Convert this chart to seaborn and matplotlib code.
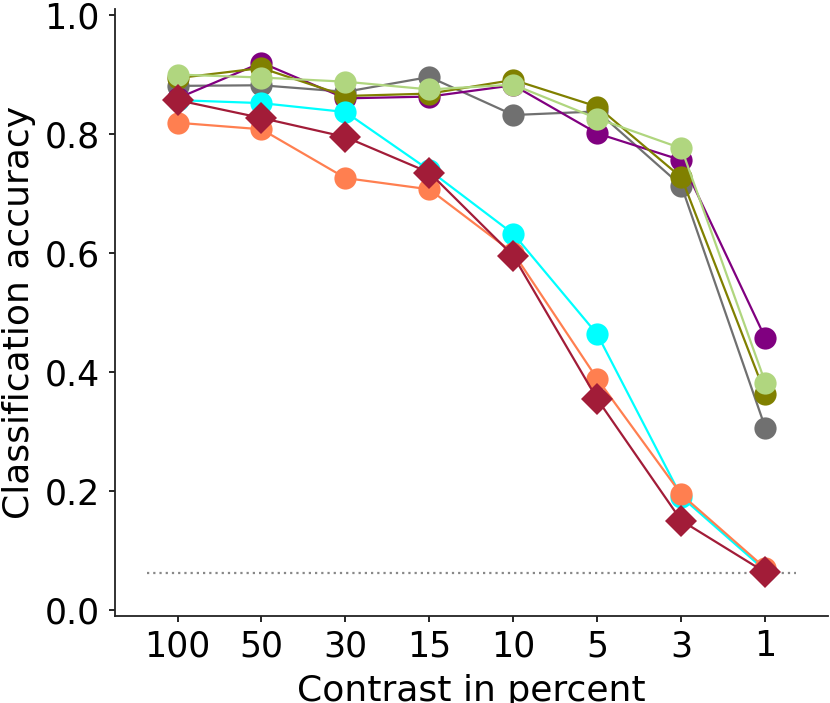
import numpy as np
import pandas as pd
import matplotlib
matplotlib.use("Agg")
import matplotlib.pyplot as plt
import seaborn as sns

contrast_labels = ["100", "50", "30", "15", "10", "5", "3", "1"]

grey_vals = [0.881, 0.882, 0.871, 0.896, 0.832, 0.838, 0.713, 0.306]
purple_vals = [0.860, 0.920, 0.860, 0.863, 0.882, 0.801, 0.756, 0.457]
olive_vals = [0.894, 0.911, 0.864, 0.868, 0.891, 0.846, 0.727, 0.363]
lightgreen_vals = [0.900, 0.895, 0.888, 0.875, 0.883, 0.826, 0.776, 0.382]
cyan_vals = [0.857, 0.852, 0.837, 0.739, 0.632, 0.463, 0.190, 0.066]
coral_vals = [0.819, 0.808, 0.726, 0.707, 0.600, 0.388, 0.194, 0.070]
human_vals = [0.857, 0.827, 0.795, 0.735, 0.595, 0.354, 0.150, 0.063]

chance_level = 1 / 16

series_names = ["grey", "purple", "olive", "lightgreen", "cyan", "coral", "human"]
series_values = [grey_vals, purple_vals, olive_vals, lightgreen_vals,
                 cyan_vals, coral_vals, human_vals]
palette = {"grey": "#707070", "purple": "#800080", "olive": "#808000",
           "lightgreen": "#b0d67f", "cyan": "#00ffff", "coral": "#ff7f50",
           "human": "#a21c38"}
markers = {n: "o" for n in series_names}
markers["human"] = "D"

rows = []
for name, vals in zip(series_names, series_values):
    for lab, v in zip(contrast_labels, vals):
        rows.append({"contrast": lab, "acc": v, "model": name})
df = pd.DataFrame(rows)

sns.set_theme(style="ticks")
plt.rcParams["font.family"] = ["DejaVu Sans"]

fig = plt.figure(figsize=(8.30, 7.03), dpi=100)
ax = fig.add_axes([0.138, 0.124, 0.860, 0.863])

sns.lineplot(data=df, x="contrast", y="acc", hue="model", style="model",
             hue_order=series_names, style_order=series_names,
             palette=palette, markers=markers, dashes=False, sort=False,
             markersize=16, markeredgewidth=0, linewidth=1.6,
             errorbar=None, legend=False, ax=ax)

ax.plot([-0.36, 7.36], [chance_level, chance_level], linestyle=(0, (1, 1.8)),
        color="#888888", linewidth=1.6, zorder=0)

ax.set_xlim(-0.75, 7.75)
ax.set_ylim(-0.01, 1.01)
ax.set_yticks([0.0, 0.2, 0.4, 0.6, 0.8, 1.0])
ax.set_yticklabels(["0.0", "0.2", "0.4", "0.6", "0.8", "1.0"])
ax.tick_params(axis="both", labelsize=25, length=4.5, width=1.2, color="black",
               labelcolor="black", pad=6)
ax.tick_params(axis="x", pad=5)
ax.set_xlabel("Contrast in percent", fontsize=26, color="black", labelpad=8)
ax.set_ylabel("Classification accuracy", fontsize=26, color="black", labelpad=6)
for s in ["left", "bottom"]:
    ax.spines[s].set_color("#222222")
    ax.spines[s].set_linewidth(1.3)
sns.despine(ax=ax)

fig.savefig("out.png", dpi=100)
